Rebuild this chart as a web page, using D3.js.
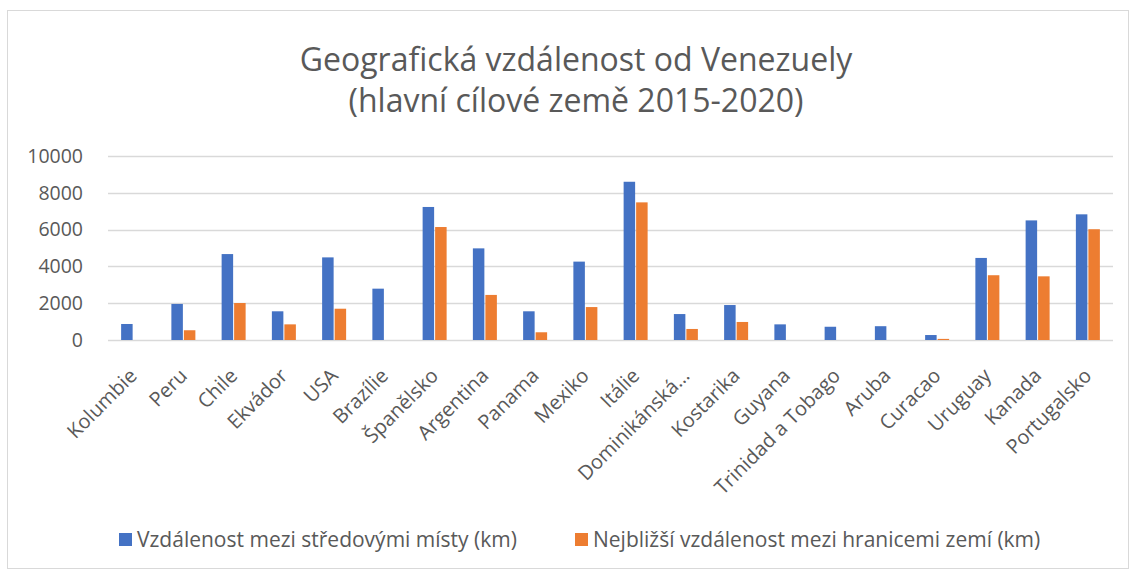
<!DOCTYPE html>
<html>
<head>
<meta charset="utf-8">
<script src="https://cdnjs.cloudflare.com/ajax/libs/d3/7.8.5/d3.min.js"></script>
<style>
    body { margin: 0; background: #fff; }
    text { fill: #595959; }
    .axisText { font-family: 'Open Sans', sans-serif; font-size: 20px; }
</style>
</head>
<body>
<div id="plot"></div>
<script>
let svgWidth = 1131;
let svgHeight = 572;

let margin = {
    top: 156,
    right: 18,
    bottom: 232,
    left: 108
};

let chartWidth = svgWidth - margin.left - margin.right;
let chartHeight = svgHeight - margin.top - margin.bottom;

// Data
let countries = ['Kolumbie', 'Peru', 'Chile', 'Ekvádor', 'USA', 'Brazílie', 'Španělsko', 'Argentina',
    'Panama', 'Mexiko', 'Itálie', 'Dominikánská…', 'Kostarika', 'Guyana', 'Trinidad a Tobago',
    'Aruba', 'Curacao', 'Uruguay', 'Kanada', 'Portugalsko'];
let centerDistance = [870, 1960, 4670, 1560, 4490, 2790, 7230, 4980, 1560, 4260,
    8600, 1410, 1900, 850, 720, 750, 270, 4460, 6500, 6830];
let borderDistance = [0, 530, 2010, 850, 1700, 0, 6140, 2450, 420, 1790,
    7480, 600, 980, 0, 0, 0, 60, 3520, 3460, 6020];
let yTicks = [0, 2000, 4000, 6000, 8000, 10000];
let seriesNames = ['Vzdálenost mezi středovými místy (km)', 'Nejbližší vzdálenost mezi hranicemi zemí (km)'];
let seriesColors = ['#4472c4', '#ed7d31'];

let $svg = d3.select('#plot')
    .append('svg')
    .attr('width', svgWidth)
    .attr('height', svgHeight);

// chart area border
$svg.append('rect')
    .attr('x', 7.5)
    .attr('y', 10.5)
    .attr('width', 1121)
    .attr('height', 558)
    .attr('fill', 'none')
    .attr('stroke', '#d9d9d9');

// Title
let title = $svg.append('text')
    .attr('x', 576)
    .attr('y', 71)
    .attr('text-anchor', 'middle')
    .style('font-family', "'Open Sans', sans-serif")
    .style('font-size', '32px');
title.append('tspan').attr('x', 576).text('Geografická vzdálenost od Venezuely');
title.append('tspan').attr('x', 576).attr('dy', 41).text('(hlavní cílové země 2015-2020)');

let chartGroup = $svg.append('g')
    .attr('transform', `translate(${margin.left}, ${margin.top})`);

let xBandScale = d3.scaleBand()
    .domain(countries)
    .range([0, chartWidth]);

let xSeriesScale = d3.scaleBand()
    .domain([0, 1])
    .range([0, 24])
    .paddingInner(0.08);

let yLinearScale = d3.scaleLinear()
    .domain([0, 10000])
    .range([chartHeight, 0]);

// gridlines
chartGroup.append('g')
    .selectAll('line')
    .data(yTicks)
    .enter()
    .append('line')
    .attr('x1', 0)
    .attr('x2', chartWidth)
    .attr('y1', d => Math.round(yLinearScale(d)) + 0.5)
    .attr('y2', d => Math.round(yLinearScale(d)) + 0.5)
    .attr('stroke', '#d9d9d9')
    .attr('stroke-width', 1.5);

// y axis labels
let leftAxis = d3.axisLeft(yLinearScale)
    .tickValues(yTicks)
    .tickFormat(d3.format('d'))
    .tickSize(0)
    .tickPadding(25);
let yAxisGroup = chartGroup.append('g').call(leftAxis);
yAxisGroup.select('.domain').remove();
yAxisGroup.selectAll('text')
    .attr('class', 'axisText')
    .attr('fill', '#595959')
    .style('font-size', '19.5px');

// bars
let seriesData = [centerDistance, borderDistance];
let barOffset = (xBandScale.bandwidth() - 24) / 2;

seriesData.forEach((values, s) => {
    chartGroup.append('g')
        .selectAll('rect')
        .data(values)
        .enter()
        .append('rect')
        .attr('x', (d, i) => xBandScale(countries[i]) + barOffset + xSeriesScale(s))
        .attr('y', d => yLinearScale(d))
        .attr('width', xSeriesScale.bandwidth())
        .attr('height', d => chartHeight - yLinearScale(d))
        .attr('fill', seriesColors[s]);
});

// x axis labels
chartGroup.append('g')
    .selectAll('text')
    .data(countries)
    .enter()
    .append('text')
    .attr('class', 'axisText')
    .attr('text-anchor', 'end')
    .attr('transform', d => `translate(${xBandScale(d) + xBandScale.bandwidth() / 2 + 5}, ${chartHeight + 37}) rotate(-45)`)
    .text(d => d);

// legend
let legendX = [119, 575];
let legend = $svg.append('g');
seriesNames.forEach((name, s) => {
    legend.append('rect')
        .attr('x', legendX[s])
        .attr('y', 533)
        .attr('width', 13)
        .attr('height', 13)
        .attr('fill', seriesColors[s]);
    legend.append('text')
        .attr('x', legendX[s] + 18)
        .attr('y', 547)
        .style('font-family', "'Open Sans', sans-serif")
        .style('font-size', '21px')
        .text(name);
});
</script>
</body>
</html>
